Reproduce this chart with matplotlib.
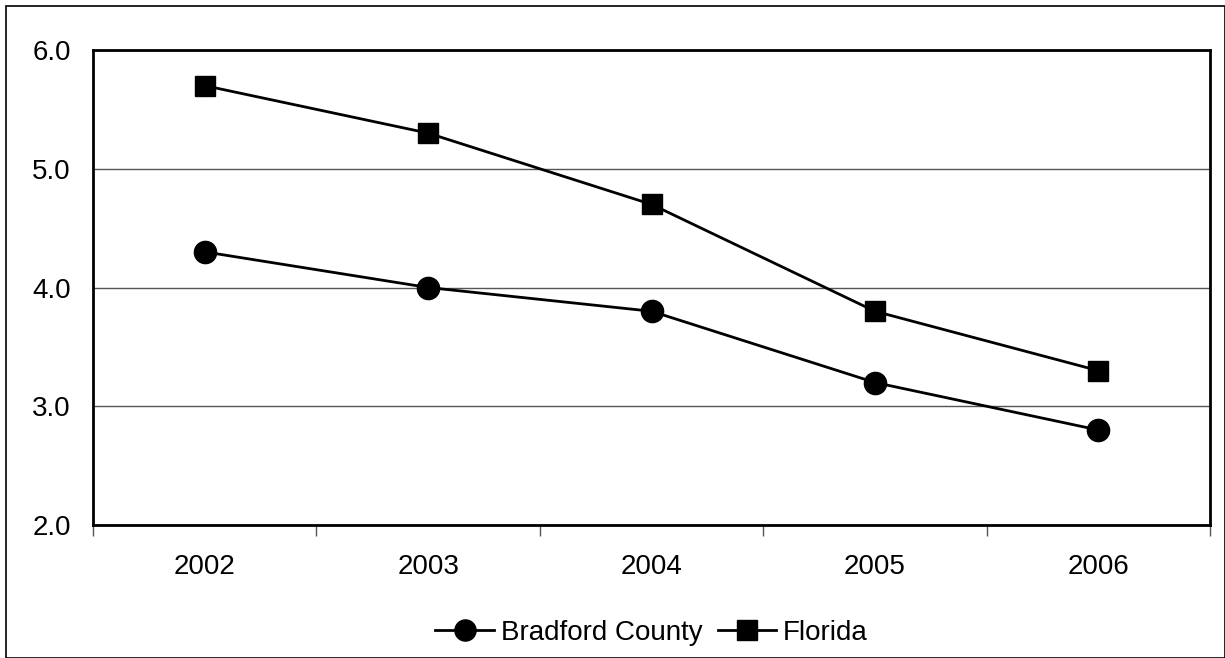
import matplotlib.pyplot as plt
from matplotlib.patches import Rectangle

years = ["2002", "2003", "2004", "2005", "2006"]
bradford = [4.3, 4.0, 3.8, 3.2, 2.8]
florida = [5.7, 5.3, 4.7, 3.8, 3.3]
y_ticks = [2.0, 3.0, 4.0, 5.0, 6.0]

plt.rcParams["font.family"] = ["Liberation Sans", "DejaVu Sans"]

fig = plt.figure(figsize=(12.25, 6.58), dpi=100)
ax = fig.add_axes([93 / 1225, 133 / 658, 1117 / 1225, 475 / 658])

x = list(range(len(years)))

ax.plot(x, bradford, color="black", linewidth=2, marker="o",
        markersize=16, label="Bradford County")
ax.plot(x, florida, color="black", linewidth=2, marker="s",
        markersize=15, label="Florida")

ax.set_xlim(-0.5, len(years) - 0.5)
ax.set_ylim(2.0, 6.0)

ax.set_yticks(y_ticks)
ax.set_yticklabels([f"{v:.1f}" for v in y_ticks], fontsize=20)
ax.tick_params(axis="y", length=0, pad=16)

ax.set_xticks(x)
ax.set_xticklabels(years, fontsize=20)
ax.tick_params(axis="x", which="major", length=0, pad=21)
ax.set_xticks([i - 0.5 for i in range(len(years) + 1)], minor=True)
ax.tick_params(axis="x", which="minor", length=8, width=1, color="#555555",
               direction="out")

ax.grid(axis="y", color="#555555", linewidth=1)
ax.set_axisbelow(True)

for spine in ax.spines.values():
    spine.set_linewidth(2)
    spine.set_color("black")

ax.legend(loc="center", bbox_to_anchor=(0.5, -0.227), ncol=2,
          frameon=False, fontsize=20, handlelength=2.1, handletextpad=0.25,
          columnspacing=0.55, markerscale=0.95, borderaxespad=0)

fig.patches.append(Rectangle((6 / 1225, 0), 1 - 6 / 1225 - 0.5 / 1225,
                             1 - 6 / 658, transform=fig.transFigure,
                             fill=False, edgecolor="black", linewidth=1.2))

fig.savefig("out.png", dpi=100)
